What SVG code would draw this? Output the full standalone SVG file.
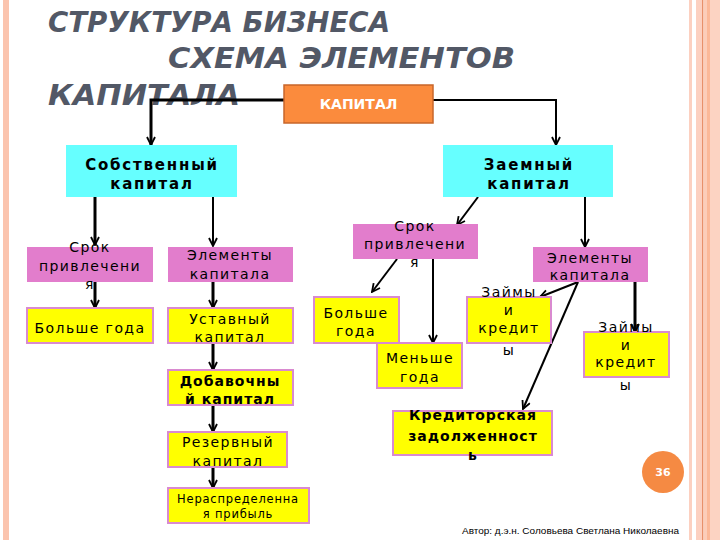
<svg xmlns="http://www.w3.org/2000/svg" width="720" height="540" viewBox="0 0 720 540">
<defs>
<style>
.title{font-family:"DejaVu Sans",sans-serif;font-weight:bold;font-style:italic;font-size:28px;fill:#525866}
.t{font-family:"DejaVu Sans",sans-serif;font-size:14px;letter-spacing:1.4px;fill:#000;text-anchor:middle}
.tb{font-family:"DejaVu Sans",sans-serif;font-size:15px;font-weight:bold;letter-spacing:1.8px;fill:#000;text-anchor:middle}
.tb2{font-family:"DejaVu Sans",sans-serif;font-size:14px;font-weight:bold;letter-spacing:1px;fill:#000;text-anchor:middle}
.cyan{fill:#66FFFF}
.pink{fill:#E27DCC}
.yel{fill:#FFFF00;stroke:#D98AD0;stroke-width:2}
.c{stroke:#000;fill:none;stroke-width:2}
.thick{stroke-width:3}
</style>
<marker id="a" viewBox="0 0 10 10" refX="9" refY="5" markerUnits="userSpaceOnUse" markerWidth="10" markerHeight="10" orient="auto">
<path d="M1,1 L9,5 L1,9" fill="none" stroke="#000" stroke-width="1.8"/>
</marker>
</defs>
<rect width="720" height="540" fill="#fff"/>
<g id="border">
<rect x="3" y="0" width="6" height="540" fill="#FBC4AE"/>
<rect x="689" y="0" width="3" height="540" fill="#FCD0C0"/>
<rect x="696" y="0" width="6" height="540" fill="#FCD0C0"/>
<rect x="702" y="0" width="1.5" height="540" fill="#E8906A"/>
<rect x="703.5" y="0" width="3.5" height="540" fill="#FCCDB9"/>
<rect x="707" y="0" width="3" height="540" fill="#FBB898"/>
<rect x="710" y="0" width="10" height="540" fill="#FCD3C2"/>
</g>
<g id="title">
<text class="title" x="48" y="32" textLength="342" lengthAdjust="spacingAndGlyphs">СТРУКТУРА БИЗНЕСА</text>
<text class="title" x="168" y="68" textLength="347" lengthAdjust="spacingAndGlyphs">СХЕМА ЭЛЕМЕНТОВ</text>
<text class="title" x="48" y="105" textLength="192" lengthAdjust="spacingAndGlyphs">КАПИТАЛА</text>
</g>
<g id="connectors">
<path class="c thick" d="M284,100 H151 V145" marker-end="url(#a)"/>
<path class="c" d="M433,100 H556 V145" marker-end="url(#a)"/>
<path class="c thick" d="M95,197 V245" marker-end="url(#a)"/>
<path class="c" d="M213,197 V246" marker-end="url(#a)"/>
<path class="c thick" d="M95,282 V308" marker-end="url(#a)"/>
<path class="c thick" d="M213,280 V308" marker-end="url(#a)"/>
<path class="c thick" d="M213,343 V370" marker-end="url(#a)"/>
<path class="c thick" d="M213,405 V432" marker-end="url(#a)"/>
<path class="c thick" d="M213,467 V488" marker-end="url(#a)"/>
<path class="c" d="M478,197 L457,225" marker-end="url(#a)"/>
<path class="c" d="M585,197 V247" marker-end="url(#a)"/>
<path class="c" d="M397,259 L372,292" marker-end="url(#a)"/>
<path class="c" d="M433,259 V343" marker-end="url(#a)"/>
<path class="c" d="M578,282 L540,297" marker-end="url(#a)"/>
<path class="c thick" d="M635,282 V332" marker-end="url(#a)"/>
<path class="c" d="M578,282 L523,409" marker-end="url(#a)"/>
</g>
<g id="kapital">
<rect x="284" y="85" width="149" height="38" fill="#FB8B3D" stroke="#C8662A" stroke-width="1.5"/>
<text x="358.5" y="109" font-family="DejaVu Sans,sans-serif" font-size="14" font-weight="bold" fill="#fff" text-anchor="middle">КАПИТАЛ</text>
</g>
<g id="sobstv">
<rect class="cyan" x="66" y="145" width="171" height="52"/>
<text class="tb" x="152" y="170">Собственный</text>
<text class="tb" x="152" y="189">капитал</text>
</g>
<g id="zaem">
<rect class="cyan" x="443" y="145" width="170" height="52"/>
<text class="tb" x="529" y="170">Заемный</text>
<text class="tb" x="529" y="189">капитал</text>
</g>
<g id="srok-left">
<rect class="pink" x="27" y="247" width="126" height="35"/>
<text class="t" x="90" y="252">Срок</text>
<text class="t" x="90" y="271">привлечени</text>
<text class="t" x="90" y="289">я</text>
</g>
<g id="elem-left">
<rect class="pink" x="168" y="247" width="125" height="35"/>
<text class="t" x="230" y="260">Элементы</text>
<text class="t" x="230" y="279">капитала</text>
</g>
<g id="bolshe-left">
<rect class="yel" x="27" y="308" width="126" height="35"/>
<text class="t" x="90" y="333">Больше года</text>
</g>
<g id="ustav">
<rect class="yel" x="168" y="308" width="125" height="35"/>
<text class="t" x="230" y="324">Уставный</text>
<text class="t" x="230" y="342">капитал</text>
</g>
<g id="dobav">
<rect class="yel" x="168" y="370" width="125" height="35"/>
<text class="tb2" x="230" y="386">Добавочны</text>
<text class="tb2" x="230" y="404">й капитал</text>
</g>
<g id="rezerv">
<rect class="yel" x="168" y="432" width="119" height="35"/>
<text class="t" x="228" y="447">Резервный</text>
<text class="t" x="228" y="466">капитал</text>
</g>
<g id="neraspr">
<rect class="yel" x="168" y="488" width="141" height="35"/>
<text class="t" x="238" y="503" style="font-size:11.5px;letter-spacing:0.8px">Нераспределенна</text>
<text class="t" x="238" y="518" style="font-size:11.5px;letter-spacing:0.8px">я прибыль</text>
</g>
<g id="srok-right">
<rect class="pink" x="353" y="224" width="125" height="35"/>
<text class="t" x="415" y="231">Срок</text>
<text class="t" x="415" y="249">привлечени</text>
<text class="t" x="415" y="267">я</text>
</g>
<g id="elem-right">
<rect class="pink" x="533" y="247" width="115" height="35"/>
<text class="t" x="590" y="263">Элементы</text>
<text class="t" x="590" y="280">капитала</text>
</g>
<g id="bolshe-right">
<rect class="yel" x="314" y="297" width="85" height="46"/>
<text class="t" x="356" y="318">Больше</text>
<text class="t" x="356" y="336">года</text>
</g>
<g id="menshe">
<rect class="yel" x="377" y="343" width="85" height="45"/>
<text class="t" x="420" y="363">Меньше</text>
<text class="t" x="420" y="382">года</text>
</g>
<g id="zaimy-mid">
<rect class="yel" x="467" y="297" width="84" height="46"/>
<text class="t" x="509" y="297">Займы</text>
<text class="t" x="509" y="315">и</text>
<text class="t" x="509" y="333">кредит</text>
<text class="t" x="509" y="355">ы</text>
</g>
<g id="zaimy-right">
<rect class="yel" x="584" y="332" width="85" height="45"/>
<text class="t" x="626" y="332">Займы</text>
<text class="t" x="626" y="350">и</text>
<text class="t" x="626" y="367">кредит</text>
<text class="t" x="626" y="390">ы</text>
</g>
<g id="kredit">
<rect class="yel" x="393" y="411" width="159" height="44"/>
<text class="tb2" x="473" y="420">Кредиторская</text>
<text class="tb2" x="473" y="441">задолженност</text>
<text class="tb2" x="473" y="460">ь</text>
</g>
<g id="page">
<circle cx="663" cy="472" r="21" fill="#F58A43"/>
<text x="663" y="476" font-family="DejaVu Sans,sans-serif" font-size="11" font-weight="bold" fill="#fff" text-anchor="middle">36</text>
</g>
<text x="462" y="534" font-family="Liberation Sans,sans-serif" font-size="9" textLength="217" lengthAdjust="spacingAndGlyphs" fill="#000">Автор: д.э.н. Соловьева Светлана Николаевна</text>
</svg>
